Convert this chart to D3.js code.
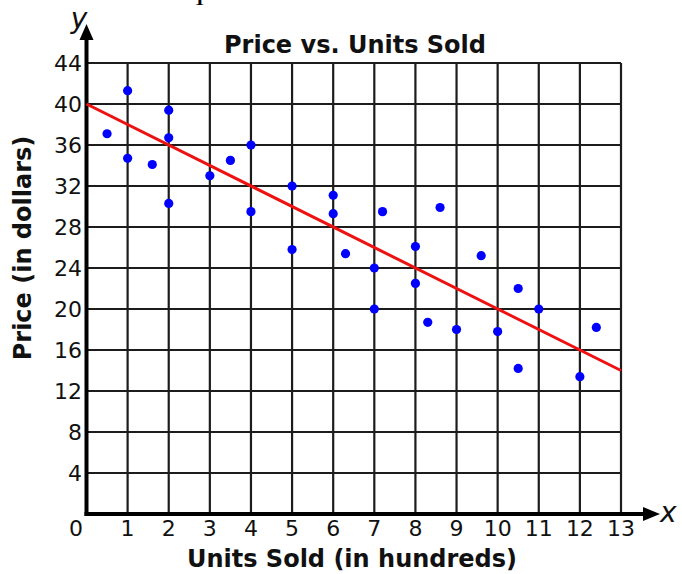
<!DOCTYPE html>
<html>
<head>
<meta charset="utf-8">
<script src="https://cdn.jsdelivr.net/npm/d3@7/dist/d3.min.js"></script>
<style>
  html, body { margin: 0; padding: 0; background: #fff; overflow: hidden; }
  svg { display: block; }
  text { font-family: "DejaVu Sans", Verdana, sans-serif; fill: #111; }
</style>
</head>
<body>
<svg id="chart" width="682" height="574"></svg>
<script>
// Units sold (hundreds) and price (dollars) for each observation
const unitsSold = [0.5, 1, 1, 1.6, 2, 2, 2, 3, 3.5, 4, 4, 5, 5, 6, 6, 6.3, 7, 7, 7.2, 8, 8, 8.3, 8.6, 9, 9.6, 10, 10.5, 10.5, 11, 12, 12.4];
const price     = [37.1, 41.3, 34.7, 34.1, 39.4, 36.7, 30.3, 33.0, 34.5, 36.0, 29.5, 32.0, 25.8, 31.1, 29.3, 25.4, 24.0, 20.0, 29.5, 26.1, 22.5, 18.7, 29.9, 18.0, 25.2, 17.8, 22.0, 14.2, 20.0, 13.4, 18.2];

// Line of best fit end points
const fitX = [0, 13];
const fitY = [40, 14];

// Axis ticks
const xTicks = [1, 2, 3, 4, 5, 6, 7, 8, 9, 10, 11, 12, 13];
const yTicks = [4, 8, 12, 16, 20, 24, 28, 32, 36, 40, 44];

const svg = d3.select("#chart");

const x = d3.scaleLinear().domain([0, 13]).range([86.5, 621]);
const y = d3.scaleLinear().domain([0, 44]).range([514, 63]);

// Question text above the chart (mostly outside the frame)
svg.append("text")
  .attr("x", 0).attr("y", -0.3)
  .attr("textLength", 605)
  .attr("lengthAdjust", "spacingAndGlyphs")
  .style("font-family", "'Liberation Serif', serif")
  .style("font-size", "24px")
  .style("fill", "#000")
  .text("What is the equation of the line of best fit?");

// Grid
const grid = svg.append("g").attr("stroke", "#1c1c1c").attr("stroke-width", 2.2);
grid.selectAll("line.v").data(xTicks).join("line")
  .attr("x1", d => x(d)).attr("x2", d => x(d))
  .attr("y1", y(0)).attr("y2", y(44));
grid.selectAll("line.h").data(yTicks).join("line")
  .attr("x1", x(0)).attr("x2", x(13))
  .attr("y1", d => y(d)).attr("y2", d => y(d));

// Axes with arrows
const axes = svg.append("g");
axes.append("line")
  .attr("x1", x(0)).attr("x2", x(0))
  .attr("y1", y(0) + 2).attr("y2", 36)
  .attr("stroke", "#000").attr("stroke-width", 4);
axes.append("path")
  .attr("d", `M${x(0)},24 L${x(0) - 7},40 L${x(0) + 7},40 Z`)
  .attr("fill", "#000");
axes.append("line")
  .attr("x1", x(0) - 2).attr("x2", 646)
  .attr("y1", y(0)).attr("y2", y(0))
  .attr("stroke", "#000").attr("stroke-width", 4);
axes.append("path")
  .attr("d", `M660,${y(0)} L643,${y(0) - 7} L643,${y(0) + 7} Z`)
  .attr("fill", "#000");

// Axis variable names
svg.append("text")
  .attr("x", 79).attr("y", 28)
  .attr("text-anchor", "middle")
  .style("font-style", "italic")
  .style("font-size", "28px")
  .text("y");
svg.append("text")
  .attr("x", 660).attr("y", 522)
  .style("font-style", "italic")
  .style("font-size", "28px")
  .text("x");

// Tick labels
svg.append("g").selectAll("text").data(yTicks).join("text")
  .attr("x", 82).attr("y", d => y(d) + 8)
  .attr("text-anchor", "end")
  .style("font-size", "22px")
  .text(d => d);
svg.append("g").selectAll("text").data(xTicks).join("text")
  .attr("x", d => x(d)).attr("y", 536)
  .attr("text-anchor", "middle")
  .style("font-size", "22px")
  .text(d => d);
svg.append("text")
  .attr("x", 76).attr("y", 536)
  .attr("text-anchor", "middle")
  .style("font-size", "22px")
  .text("0");

// Trend line
svg.append("line")
  .attr("x1", x(fitX[0])).attr("y1", y(fitY[0]))
  .attr("x2", x(fitX[1])).attr("y2", y(fitY[1]))
  .attr("stroke", "#ee1111").attr("stroke-width", 3);

// Data points
svg.append("g").selectAll("circle").data(unitsSold).join("circle")
  .attr("cx", d => x(d))
  .attr("cy", (d, i) => y(price[i]))
  .attr("r", 4.6)
  .attr("fill", "#0000ff");

// Titles
svg.append("text")
  .attr("x", 355).attr("y", 53)
  .attr("text-anchor", "middle")
  .style("font-weight", "bold")
  .style("font-size", "24px")
  .text("Price vs. Units Sold");
svg.append("text")
  .attr("x", 352).attr("y", 567)
  .attr("text-anchor", "middle")
  .style("font-weight", "bold")
  .style("font-size", "24px")
  .text("Units Sold (in hundreds)");
svg.append("text")
  .attr("transform", "translate(31,248) rotate(-90)")
  .attr("text-anchor", "middle")
  .style("font-weight", "bold")
  .style("font-size", "24px")
  .text("Price (in dollars)");
</script>
</body>
</html>
